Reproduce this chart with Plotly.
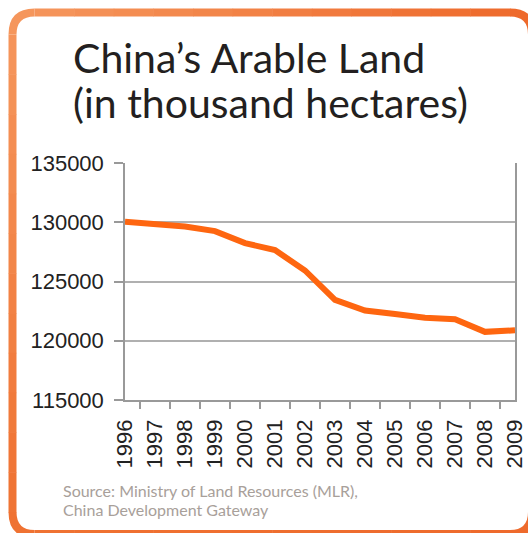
import plotly.graph_objects as go

years = ["1996", "1997", "1998", "1999", "2000", "2001", "2002",
         "2003", "2004", "2005", "2006", "2007", "2008", "2009"]
arable_land = [130040, 129900, 129640, 129250, 128240, 127650, 125930,
               123450, 122550, 122250, 121950, 121820, 120750, 120880]
y_ticks = [115000, 120000, 125000, 130000, 135000]
title_lines = ["China’s Arable Land", "(in thousand hectares)"]
source_lines = ["Source: Ministry of Land Resources (MLR),", "China Development Gateway"]

W, H = 528, 533


def px(x):
    return x / W


def py(y):
    return 1 - y / H


fig = go.Figure()
fig.add_trace(go.Scatter(
    x=years, y=arable_land, mode="lines",
    line=dict(color="#fe6610", width=6), hoverinfo="x+y", showlegend=False,
))

shapes = []


def hexmix(c1, c2, t):
    a = [int(c1[i:i + 2], 16) for i in (1, 3, 5)]
    b = [int(c2[i:i + 2], 16) for i in (1, 3, 5)]
    return "#" + "".join("%02x" % round(a[k] + (b[k] - a[k]) * t) for k in range(3))


L, T, R, B, r = 12.5, 12.5, 532, 534, 22
c_tl, c_tr, c_bl, c_br = "#f5965c", "#ee6a2c", "#ef7232", "#ee6a2c"
bw = 8
n = 12
for i in range(n):
    x0 = L + r + (R - L - 2 * r) * i / n
    x1 = L + r + (R - L - 2 * r) * (i + 1) / n
    shapes.append(dict(type="line", xref="paper", yref="paper", x0=px(x0), x1=px(x1 + 0.5),
                       y0=py(T), y1=py(T), line=dict(color=hexmix(c_tl, c_tr, (i + 0.5) / n), width=bw)))
for i in range(n):
    x0 = L + r + (R - L - 2 * r) * i / n
    x1 = L + r + (R - L - 2 * r) * (i + 1) / n
    shapes.append(dict(type="line", xref="paper", yref="paper", x0=px(x0), x1=px(x1 + 0.5),
                       y0=py(B), y1=py(B), line=dict(color=hexmix(c_bl, c_br, (i + 0.5) / n), width=bw)))
for i in range(n):
    y0 = T + r + (B - T - 2 * r) * i / n
    y1 = T + r + (B - T - 2 * r) * (i + 1) / n
    shapes.append(dict(type="line", xref="paper", yref="paper", x0=px(L), x1=px(L),
                       y0=py(y0), y1=py(y1 + 0.5), line=dict(color=hexmix(c_tl, c_bl, (i + 0.5) / n), width=bw)))
shapes.append(dict(type="line", xref="paper", yref="paper", x0=px(R), x1=px(R),
                   y0=py(T + r), y1=py(B - r), line=dict(color=c_tr, width=bw)))


def corner(x0, y0, cx, cy, x1, y1, color):
    return dict(type="path", xref="paper", yref="paper",
                path=f"M {px(x0)},{py(y0)} Q {px(cx)},{py(cy)} {px(x1)},{py(y1)}",
                line=dict(color=color, width=bw))


shapes.append(corner(L, T + r, L, T, L + r, T, c_tl))
shapes.append(corner(R - r, T, R, T, R, T + r, c_tr))
shapes.append(corner(L, B - r, L, B, L + r, B, c_bl))
shapes.append(corner(R - r, B, R, B, R, B - r, c_br))

annotations = []
for txt, top in zip(title_lines, [31, 76]):
    annotations.append(dict(text=txt, xref="paper", yref="paper", x=px(71), y=py(top),
                            xanchor="left", yanchor="top", align="left", showarrow=False,
                            font=dict(family="Lato", size=41, color="#231f20", weight=400)))
for txt, top in zip(source_lines, [479, 498]):
    annotations.append(dict(text=txt, xref="paper", yref="paper", x=px(61), y=py(top),
                            xanchor="left", yanchor="top", align="left", showarrow=False,
                            font=dict(family="Lato", size=16, color="#a8a09a")))

fig.update_layout(
    width=W, height=H, margin=dict(l=0, r=0, t=0, b=0, pad=0), autosize=False,
    paper_bgcolor="white", plot_bgcolor="white",
    shapes=shapes, annotations=annotations,
    xaxis=dict(domain=[px(125), px(515)], type="category", tickson="boundaries",
               automargin=False,
               ticks="outside", ticklen=7, tickcolor="#999999", tickwidth=1.5,
               showline=True, linecolor="#999999", linewidth=1.5, showgrid=False,
               tickangle=-90, ticklabelstandoff=9,
               tickfont=dict(family="Liberation Sans", size=22, color="#222222")),
    yaxis=dict(domain=[py(400), py(163)], range=[115000, 135000], tickvals=y_ticks,
               ticktext=[str(v) for v in y_ticks], automargin=False,
               ticks="outside", ticklen=9, tickcolor="#999999", tickwidth=1.5,
               showline=True, mirror=True, linecolor="#999999", linewidth=1.5,
               showgrid=True, gridcolor="#b0b0b0", gridwidth=1.5, zeroline=False,
               ticklabelstandoff=6,
               tickfont=dict(family="Liberation Sans", size=22, color="#222222")),
)

fig.write_html("out.html", post_script="document.body.style.margin='0';document.body.style.overflow='hidden';")
